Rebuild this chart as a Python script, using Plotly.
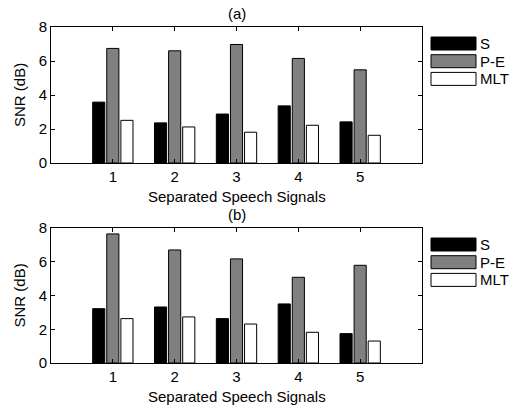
import plotly.graph_objects as go

categories = [1, 2, 3, 4, 5]
series_names = ["S", "P-E", "MLT"]
series_colors = ["#000000", "#808080", "#ffffff"]

a_S = [3.58, 2.36, 2.88, 3.36, 2.42]
a_PE = [6.74, 6.60, 6.97, 6.15, 5.48]
a_MLT = [2.51, 2.12, 1.81, 2.22, 1.63]

b_S = [3.22, 3.32, 2.63, 3.50, 1.74]
b_PE = [7.65, 6.70, 6.17, 5.08, 5.79]
b_MLT = [2.63, 2.73, 2.31, 1.82, 1.30]

y_ticks = [0, 2, 4, 6, 8]
panel_titles = ["(a)", "(b)"]
x_title = "Separated Speech Signals"
y_title = "SNR (dB)"

W, H = 514, 406
FONT = dict(family="Liberation Sans, Arial, sans-serif", size=15, color="#000000")

def px(x):
    return x / W

def py(y):
    return 1 - y / H

fig = go.Figure()

panels = [(a_S, a_PE, a_MLT), (b_S, b_PE, b_MLT)]
boxes = [(27, 163), (228, 363)]
left, right = 51, 422

for i, vals in enumerate(panels):
    xa = "x" if i == 0 else "x2"
    ya = "y" if i == 0 else "y2"
    for name, color, v in zip(series_names, series_colors, vals):
        fig.add_trace(go.Bar(
            x=categories, y=v, name=name, xaxis=xa, yaxis=ya,
            marker=dict(color=color, line=dict(color="#000000", width=1)),
            showlegend=False,
        ))

axis_common = dict(
    showline=True, linecolor="#000000", linewidth=1, mirror="ticks",
    ticks="inside", ticklen=4, tickcolor="#000000", showgrid=False,
    zeroline=False, tickfont=FONT, automargin=False,
)

for i, (top, bot) in enumerate(boxes):
    sx = "" if i == 0 else "2"
    fig.update_layout(**{
        "xaxis" + sx: dict(domain=[px(left), px(right)], range=[0, 6],
                           tickvals=categories, anchor="y" + sx, **axis_common),
        "yaxis" + sx: dict(domain=[py(bot), py(top)], range=[0, 8],
                           tickvals=y_ticks, anchor="x" + sx, **axis_common),
    })
    cx = (left + right) / 2
    fig.add_annotation(text=panel_titles[i], x=px(cx), y=py(top - 14),
                       xref="paper", yref="paper", showarrow=False,
                       font=FONT, xanchor="center", yanchor="middle")
    fig.add_annotation(text=x_title, x=px(cx), y=py(bot + 33),
                       xref="paper", yref="paper", showarrow=False,
                       font=FONT, xanchor="center", yanchor="middle")
    fig.add_annotation(text=y_title, x=px(19), y=py((top + bot) / 2),
                       xref="paper", yref="paper", showarrow=False, textangle=-90,
                       font=FONT, xanchor="center", yanchor="middle")
    for k, (name, color) in enumerate(zip(series_names, series_colors)):
        y0 = top + 10 + k * 17.7
        fig.add_shape(type="rect", xref="paper", yref="paper",
                      x0=px(431), x1=px(476), y0=py(y0 + 13), y1=py(y0),
                      fillcolor=color, line=dict(color="#000000", width=1))
        fig.add_annotation(text=name, x=px(478), y=py(y0 + 6.5),
                           xref="paper", yref="paper", showarrow=False,
                           font=FONT, xanchor="left", yanchor="middle")

fig.update_layout(
    width=W, height=H, margin=dict(l=0, r=0, t=0, b=0),
    paper_bgcolor="#ffffff", plot_bgcolor="#ffffff",
    barmode="group", bargap=0.316, bargroupgap=0.14,
    font=FONT, showlegend=False,
)

fig.write_html(
    "out.html",
    config={"responsive": False, "displayModeBar": False},
    post_script="document.body.style.margin='0';document.body.style.padding='0';document.body.style.overflow='hidden';",
)
